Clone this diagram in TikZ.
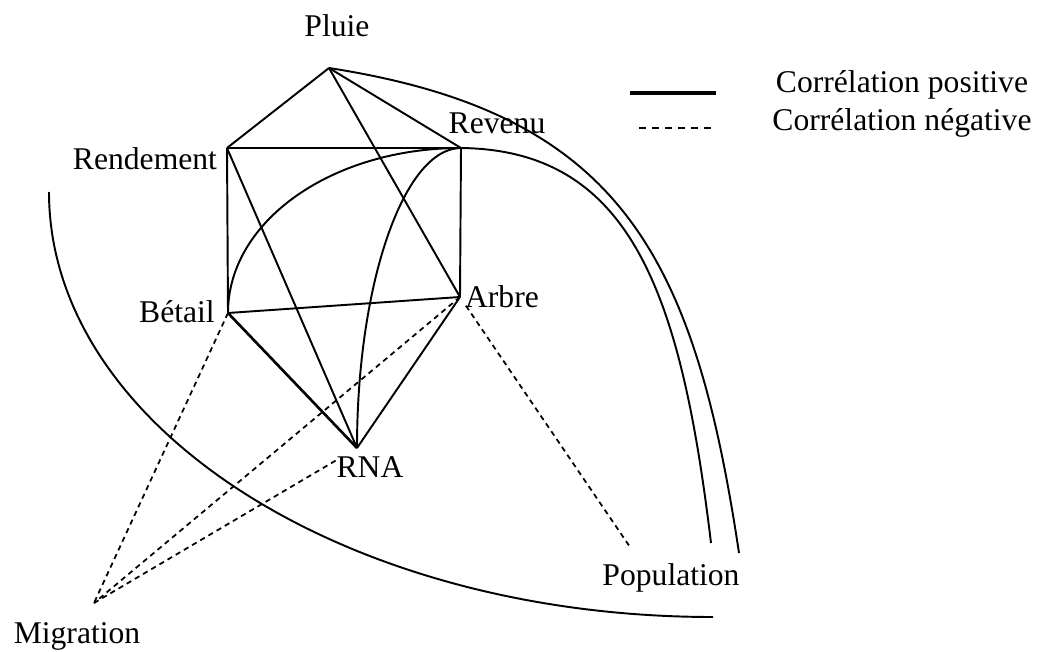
\documentclass[tikz,border=0pt]{standalone}
\usepackage{fontspec}
\setmainfont{Liberation Serif}
\usetikzlibrary{positioning}

\begin{document}
\begin{tikzpicture}[x=0.02cm, y=-0.02cm,
  lbl/.style={font=\fontsize{18}{21}\selectfont, inner sep=0pt},
  poscorr/.style={line width=1.1pt},
  negcorr/.style={line width=1pt, dash pattern=on 3pt off 2.4pt}]
  \useasboundingbox (0,0) rectangle (1045,652);

  % Points
  \coordinate (pluie) at (329,68);
  \coordinate (rendement) at (227,148);
  \coordinate (revenu) at (461,148);
  \coordinate (betail) at (228,313);
  \coordinate (arbre) at (460,297);
  \coordinate (rna) at (357,448);
  \coordinate (migration) at (94,603);
  \coordinate (popA) at (630,547);
  \coordinate (popB) at (711,543);
  \coordinate (popC) at (739,553);
  \coordinate (arcA) at (49,192);
  \coordinate (arcB) at (713,617);

  % Labels
  \node[lbl, anchor=base] (tPluie) at (337,37) {Pluie};
  \node[lbl, anchor=base] (tRendement) at (145,170) {Rendement};
  \node[lbl, anchor=base] (tRevenu) at (497,133) {Revenu};
  \node[lbl, anchor=base] (tBetail) at (177,322) {Bétail};
  \node[lbl, anchor=base] (tArbre) at (502,307) {Arbre};
  \node[lbl, anchor=base] (tRna) at (370,477) {RNA};
  \node[lbl, anchor=base] (tPopulation) at (671,585) {Population};
  \node[lbl, anchor=base] (tMigration) at (77,643) {Migration};

  % Positive correlations
  \draw[poscorr] (pluie) -- (rendement);
  \draw[poscorr] (pluie) -- (revenu);
  \draw[poscorr] (pluie) -- (arbre);
  \draw[poscorr] (rendement) -- (revenu);
  \draw[poscorr] (rendement) -- (betail);
  \draw[poscorr] (rendement) -- (rna);
  \draw[poscorr] (revenu) -- (arbre);
  \draw[poscorr] (betail) -- (arbre);
  \draw[poscorr, line width=1.5pt] (betail) -- (rna);
  \draw[poscorr] (arbre) -- (rna);
  \draw[poscorr] (betail) .. controls (228,221) and (332,148) .. (revenu);
  \draw[poscorr] (rna) .. controls (357,283) and (404,148) .. (revenu);
  \draw[poscorr] (revenu) .. controls (631,150) and (681,293) .. (popB);
  \draw[poscorr] (pluie) .. controls (619,113) and (694,253) .. (popC);
  \draw[poscorr] (arcA) .. controls (49,427) and (346,617) .. (arcB);

  % Negative correlations
  \draw[negcorr] (betail) -- (migration);
  \draw[negcorr] (arbre) -- (migration);
  \draw[negcorr, shorten >=13pt] (migration) -- (rna);
  \draw[negcorr, shorten <=6pt] (arbre) -- (popA);

  % Legend
  \coordinate (posA) at (630,93);
  \coordinate (posB) at (716,93);
  \coordinate (negA) at (639,128);
  \coordinate (negB) at (716,128);
  \draw[line width=1.8pt] (posA) -- (posB);
  \draw[line width=0.7pt, dash pattern=on 4pt off 3.4pt] (negA) -- (negB);
  \node[lbl, anchor=base] (tPos) at (902,92) {Corrélation positive};
  \node[lbl, anchor=base] (tNeg) at (902,131) {Corrélation négative};
\end{tikzpicture}
\end{document}
